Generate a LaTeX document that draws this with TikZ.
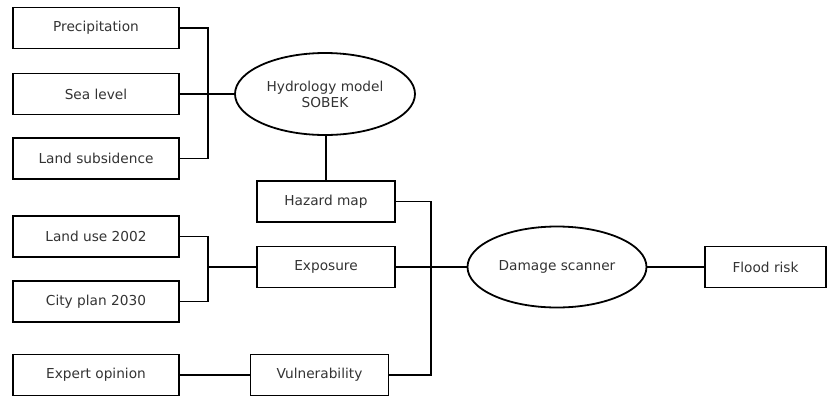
\documentclass[tikz,border=0pt]{standalone}
\usepackage{fontspec}
\setmainfont{DejaVu Sans}
\usetikzlibrary{shapes.geometric}
\begin{document}
\begin{tikzpicture}[x=1pt,y=-1pt,
  every node/.style={font=\fontsize{13.7}{16}\selectfont, inner sep=0pt, text=black!80},
  box/.style={draw, line width=1.8pt, rectangle, minimum height=41pt},
  oval/.style={draw, line width=1.8pt, ellipse, align=center},
  conn/.style={line width=1.8pt}]
\useasboundingbox (0,0) rectangle (832,397);
\node[box, minimum width=166pt] (prec) at (96,28) {Precipitation};
\node[box, minimum width=166pt] (sea) at (96,94) {Sea level};
\node[box, minimum width=166pt] (subs) at (96,158.5) {Land subsidence};
\node[box, minimum width=166pt] (landuse) at (96,236.5) {Land use 2002};
\node[box, minimum width=166pt] (city) at (96,301.5) {City plan 2030};
\node[box, minimum width=166pt] (expert) at (96,375) {Expert opinion};
\node[oval, minimum width=180pt, minimum height=82pt] (hydro) at (325,94) {Hydrology model\\[0pt]SOBEK};
\node[box, minimum width=138pt] (hazard) at (326,201.5) {Hazard map};
\node[box, minimum width=138pt] (expo) at (326,267) {Exposure};
\node[box, minimum width=138pt] (vuln) at (319.5,375) {Vulnerability};
\node[oval, minimum width=179pt, minimum height=81pt] (damage) at (557,267) {Damage scanner};
\node[box, minimum width=121pt] (flood) at (765.5,267) {Flood risk};
\coordinate (j1) at (208,94);
\coordinate (j2) at (208,267);
\coordinate (j3) at (431,267);
\draw[conn] (prec.east) -| (j1) |- (subs.east);
\draw[conn] (sea.east) -- (hydro.west);
\draw[conn] (hydro.south -| hazard.north) -- (hazard.north);
\draw[conn] (landuse.east) -| (j2) |- (city.east);
\draw[conn] (j2) -- (expo.west);
\draw[conn] (expert.east) -- (vuln.west);
\draw[conn] (hazard.east) -| (j3) |- (vuln.east);
\draw[conn] (expo.east) -- (damage.west);
\draw[conn] (damage.east) -- (flood.west);
\end{tikzpicture}
\end{document}
